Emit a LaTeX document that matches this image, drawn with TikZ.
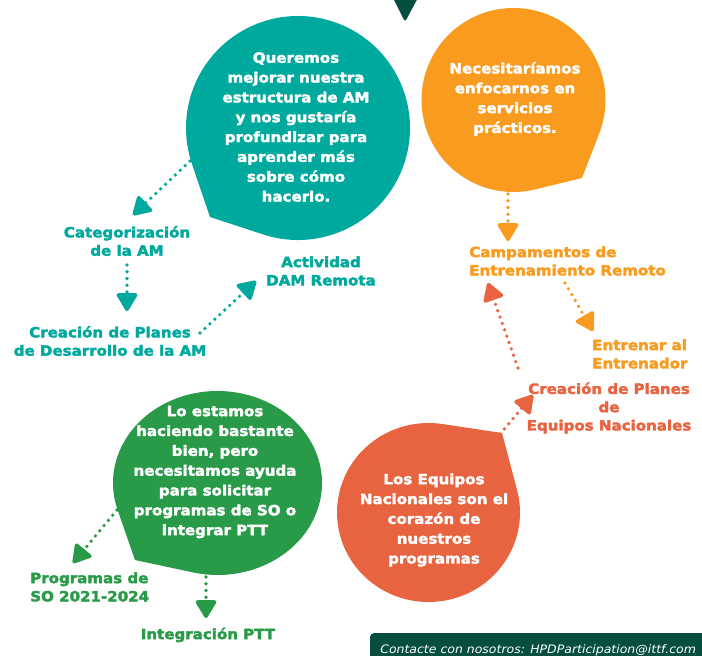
\documentclass[tikz,border=0pt]{standalone}
\usepackage{fontspec}
\setmainfont{DejaVu Sans}[FakeStretch=1.07,BoldFeatures={FakeBold=2.5}]
\usepackage{xcolor}
\usetikzlibrary{arrows.meta}

\definecolor{amteal}{HTML}{00A99D}
\definecolor{amorange}{HTML}{F89B1F}
\definecolor{amgreen}{HTML}{299B48}
\definecolor{amcoral}{HTML}{E8633F}
\definecolor{amdark}{HTML}{054E40}

\begin{document}
\begin{tikzpicture}[x=0.025cm,y=-0.025cm,
    every node/.style={inner sep=0pt,align=center,font=\bfseries\fontsize{10}{14.1}\selectfont},
    lbl/.style={font=\bfseries\fontsize{10}{13}\selectfont},
    dotarrow/.style={line width=2.6pt,line cap=round,dash pattern=on 0pt off 4.8pt,
      -{Triangle[length=14pt,width=16pt,round]}}]
  \fill[white] (0,0) rectangle (702,656);
  \useasboundingbox (0,0) rectangle (702,656);
  \clip (0,0) rectangle (702,656);

  % bubbles
  \fill[amdark,rounded corners=2] (391,-6) -- (420,-6) -- (405,22) -- cycle;
  \fill[amteal] (210,217) -- ([shift={(298,128)}]108.1:112)
    arc[start angle=108.1,end angle=-198.7,radius=112] -- cycle;
  \fill[amorange] (582,178) -- ([shift={(513.5,100)}]76.3:92)
    arc[start angle=76.3,end angle=381.1,radius=92] -- cycle;
  \fill[amgreen] (135,560) -- ([shift={(217.5,483)}]103.3:104.5 and 92)
    arc[start angle=103.3,end angle=-196.9,x radius=104.5,y radius=92] -- cycle;
  \fill[amcoral] (502,433) -- ([shift={(428.5,512.5)}]-14.5:91.5 and 89.5)
    arc[start angle=-14.5,end angle=278.7,x radius=91.5,y radius=89.5] -- cycle;

  \node[text=white] (mejorar) at (296,127) {Queremos\\mejorar nuestra\\estructura de AM\\y nos gustaría\\profundizar para\\aprender más\\sobre cómo\\hacerlo.};
  \node[text=white] (enfocar) at (515,99) {Necesitaríamos\\enfocarnos en\\servicios\\prácticos.};
  \node[text=white] (ayuda) at (215,472) {Lo estamos\\haciendo bastante\\bien, pero\\necesitamos ayuda\\para solicitar\\programas de SO o\\integrar PTT};
  \node[text=white] (corazon) at (434,520) {Los Equipos\\Nacionales son el\\corazón de\\nuestros\\programas};

  % labels
  \node[lbl,text=amteal] (categ) at (127,241) {Categorización\\de la AM};
  \node[lbl,text=amteal] (remota) at (321,271) {Actividad\\DAM Remota};
  \node[lbl,text=amteal] (desarr) at (110,341) {Creación de Planes\\de Desarrollo de la AM};
  \node[lbl,text=amorange,align=left,anchor=west] (campam) at (469,261) {Campamentos de\\Entrenamiento Remoto};
  \node[lbl,text=amorange,align=left,anchor=west] (entren) at (592,354) {Entrenar al\\Entrenador};
  \node[lbl,text=amcoral] (equipos) at (609,408) {Creación de Planes\\de\\Equipos Nacionales};
  \node[lbl,text=amgreen,align=left,anchor=west] (progso) at (30,587) {Programas de\\SO 2021-2024};
  \node[lbl,text=amgreen] (integ) at (208,635) {Integración PTT};

  % arrow ends
  \coordinate (mejorarA) at (190,161);
  \coordinate (categT) at (133,215);
  \coordinate (categB) at (127,265);
  \coordinate (desarrT) at (127,311);
  \coordinate (desarrR) at (200,333);
  \coordinate (remotaT) at (256,281);
  \coordinate (enfocarB) at (508,194);
  \coordinate (campamT) at (508,241);
  \coordinate (campamB) at (565,283);
  \coordinate (entrenT) at (593,331);
  \coordinate (equiposL) at (518,368);
  \coordinate (campamC) at (488,283);
  \coordinate (corazonA) at (500,434);
  \coordinate (equiposT) at (533,395);
  \coordinate (ayudaA) at (117,510);
  \coordinate (progsoT) at (73,563);
  \coordinate (ayudaB) at (206,577);
  \coordinate (integT) at (206,618);

  \draw[dotarrow,amteal] (mejorarA) -- (categT);
  \draw[dotarrow,amteal] (categB) -- (desarrT);
  \draw[dotarrow,amteal] (desarrR) -- (remotaT);
  \draw[dotarrow,amorange] (enfocarB) -- (campamT);
  \draw[dotarrow,amorange] (campamB) -- (entrenT);
  \draw[dotarrow,amcoral] (equiposL) -- (campamC);
  \draw[dotarrow,amcoral] (corazonA) -- (equiposT);
  \draw[dotarrow,amgreen] (ayudaA) -- (progsoT);
  \draw[dotarrow,amgreen] (ayudaB) -- (integT);

  % footer
  \fill[amdark,rounded corners=3] (370,633) rectangle (712,666);
  \node[anchor=base west,text=white,font=\mdseries\itshape\fontsize{8.3}{10}\selectfont] (contacto) at (380,653) {Contacte con nosotros: HPDParticipation@ittf.com};
\end{tikzpicture}
\end{document}
